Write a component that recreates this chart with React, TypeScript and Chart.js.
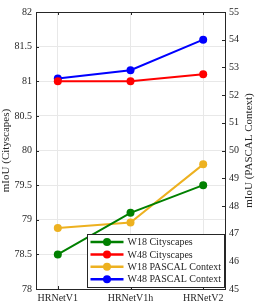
import React, { useEffect, useRef } from 'react';
import { Chart, registerables } from 'chart.js';

Chart.register(...registerables);

const categories = ['HRNetV1', 'HRNetV1h', 'HRNetV2'];
const w18City = [78.5, 79.1, 79.5];
const w48City = [81.0, 81.0, 81.1];
const w18Pascal = [47.2, 47.4, 49.5];
const w48Pascal = [52.6, 52.9, 54.0];
const seriesNames = ['W18 Cityscapes', 'W48 Cityscapes', 'W18 PASCAL Context', 'W48 PASCAL Context'];
const seriesColors = ['rgb(0,128,0)', 'rgb(255,0,0)', 'rgb(237,177,32)', 'rgb(0,0,255)'];
const leftTitle = 'mIoU (Cityscapes)';
const rightTitle = 'mIoU (PASCAL Context)';

const AXIS = '#262626';
const FONT = 'Liberation Serif';

const boxPlugin = {
  id: 'boxAndLegend',
  afterDraw(chart: any) {
    const { ctx, chartArea } = chart;
    const { left, right, top, bottom } = chartArea;
    ctx.save();
    ctx.strokeStyle = AXIS;
    ctx.lineWidth = 1;
    // inward ticks
    const yl = chart.scales.y;
    const yr = chart.scales.y1;
    const xs = chart.scales.x;
    ctx.beginPath();
    yl.ticks.forEach((t: any) => {
      const p = Math.round(yl.getPixelForValue(t.value)) + 0.5;
      ctx.moveTo(left, p);
      ctx.lineTo(left + 3, p);
    });
    yr.ticks.forEach((t: any) => {
      const p = Math.round(yr.getPixelForValue(t.value)) + 0.5;
      ctx.moveTo(right, p);
      ctx.lineTo(right - 3, p);
    });
    xs.ticks.forEach((t: any) => {
      const p = Math.round(xs.getPixelForValue(t.value)) + 0.5;
      ctx.moveTo(p, bottom);
      ctx.lineTo(p, bottom - 3);
      ctx.moveTo(p, top);
      ctx.lineTo(p, top + 3);
    });
    ctx.stroke();
    // box
    ctx.strokeRect(Math.round(left) + 0.5, Math.round(top) + 0.5, Math.round(right - left), Math.round(bottom - top));

    // right axis title (reads bottom to top)
    ctx.save();
    ctx.translate(chart.width - 6.6, (top + bottom) / 2);
    ctx.rotate(-Math.PI / 2);
    ctx.font = `11px "${FONT}"`;
    ctx.fillStyle = AXIS;
    ctx.textAlign = 'center';
    ctx.textBaseline = 'middle';
    ctx.fillText(rightTitle, 0, 0);
    ctx.restore();

    // legend
    const bx = Math.round(right) - 138 + 0.5;
    const by = Math.round(bottom) - 55 + 0.5;
    const bw = 137;
    const bh = 53;
    ctx.fillStyle = '#ffffff';
    ctx.fillRect(bx, by, bw, bh);
    ctx.strokeStyle = AXIS;
    ctx.strokeRect(bx, by, bw, bh);
    ctx.font = `10px "${FONT}"`;
    ctx.textBaseline = 'middle';
    ctx.textAlign = 'left';
    seriesNames.forEach((name, i) => {
      const ry = by + 7.5 + i * 12.4;
      ctx.strokeStyle = seriesColors[i];
      ctx.lineWidth = 2.5;
      ctx.beginPath();
      ctx.moveTo(bx + 3, ry);
      ctx.lineTo(bx + 36, ry);
      ctx.stroke();
      ctx.fillStyle = seriesColors[i];
      ctx.beginPath();
      ctx.arc(bx + 19.5, ry, 4, 0, Math.PI * 2);
      ctx.fill();
      ctx.fillStyle = AXIS;
      ctx.fillText(name, bx + 40, ry + 0.5);
    });
    ctx.restore();
  },
};

export default function App() {
  const ref = useRef<HTMLCanvasElement>(null);
  useEffect(() => {
    document.body.style.margin = '0';
    const toPts = (arr: number[]) => arr.map((v, i) => ({ x: i, y: v }));
    const ds = (i: number, data: number[], axis: string) => ({
      label: seriesNames[i],
      data: toPts(data),
      yAxisID: axis,
      borderColor: seriesColors[i],
      backgroundColor: seriesColors[i],
      borderWidth: 2,
      pointRadius: 4,
      pointBorderWidth: 0,
      pointBackgroundColor: seriesColors[i],
      tension: 0,
    });
    const chart = new Chart(ref.current as HTMLCanvasElement, {
      type: 'line',
      data: {
        datasets: [
          ds(0, w18City, 'y'),
          ds(1, w48City, 'y'),
          ds(2, w18Pascal, 'y1'),
          ds(3, w48Pascal, 'y1'),
        ],
      },
      options: {
        responsive: false,
        animation: false,
        layout: { padding: { top: 12, left: 0, right: 0, bottom: 0 } },
        plugins: { legend: { display: false }, tooltip: { enabled: false } },
        scales: {
          x: {
            type: 'linear',
            min: -0.3,
            max: 2.3,
            afterBuildTicks: (s: any) => {
              s.ticks = categories.map((_, i) => ({ value: i }));
            },
            afterFit: (s: any) => {
              s.height = 16;
            },
            ticks: {
              callback: (v: any) => categories[v as number],
              font: { family: FONT, size: 10 },
              color: AXIS,
              padding: 3,
              maxRotation: 0,
            },
            grid: { color: '#e8e8e8', drawTicks: false },
            border: { display: false },
          },
          y: {
            type: 'linear',
            position: 'left',
            min: 78,
            max: 82,
            ticks: {
              stepSize: 0.5,
              font: { family: FONT, size: 10 },
              color: AXIS,
              padding: 4,
              callback: (v: any) => String(v),
            },
            afterFit: (s: any) => {
              s.width = 36;
            },
            grid: { color: '#e8e8e8', drawTicks: false },
            border: { display: false },
            title: {
              display: true,
              text: leftTitle,
              font: { family: FONT, size: 11 },
              color: AXIS,
              padding: { top: 0, bottom: 0 },
            },
          },
          y1: {
            type: 'linear',
            position: 'right',
            min: 45,
            max: 55,
            ticks: {
              stepSize: 1,
              font: { family: FONT, size: 10 },
              color: AXIS,
              padding: 4,
            },
            afterFit: (s: any) => {
              s.width = 31;
            },
            grid: { display: false, drawTicks: false },
            border: { display: false },
            title: { display: false },
          },
        },
      },
      plugins: [boxPlugin],
    } as any);
    return () => chart.destroy();
  }, []);
  return <canvas ref={ref} width={256} height={305} style={{ display: 'block' }} />;
}
